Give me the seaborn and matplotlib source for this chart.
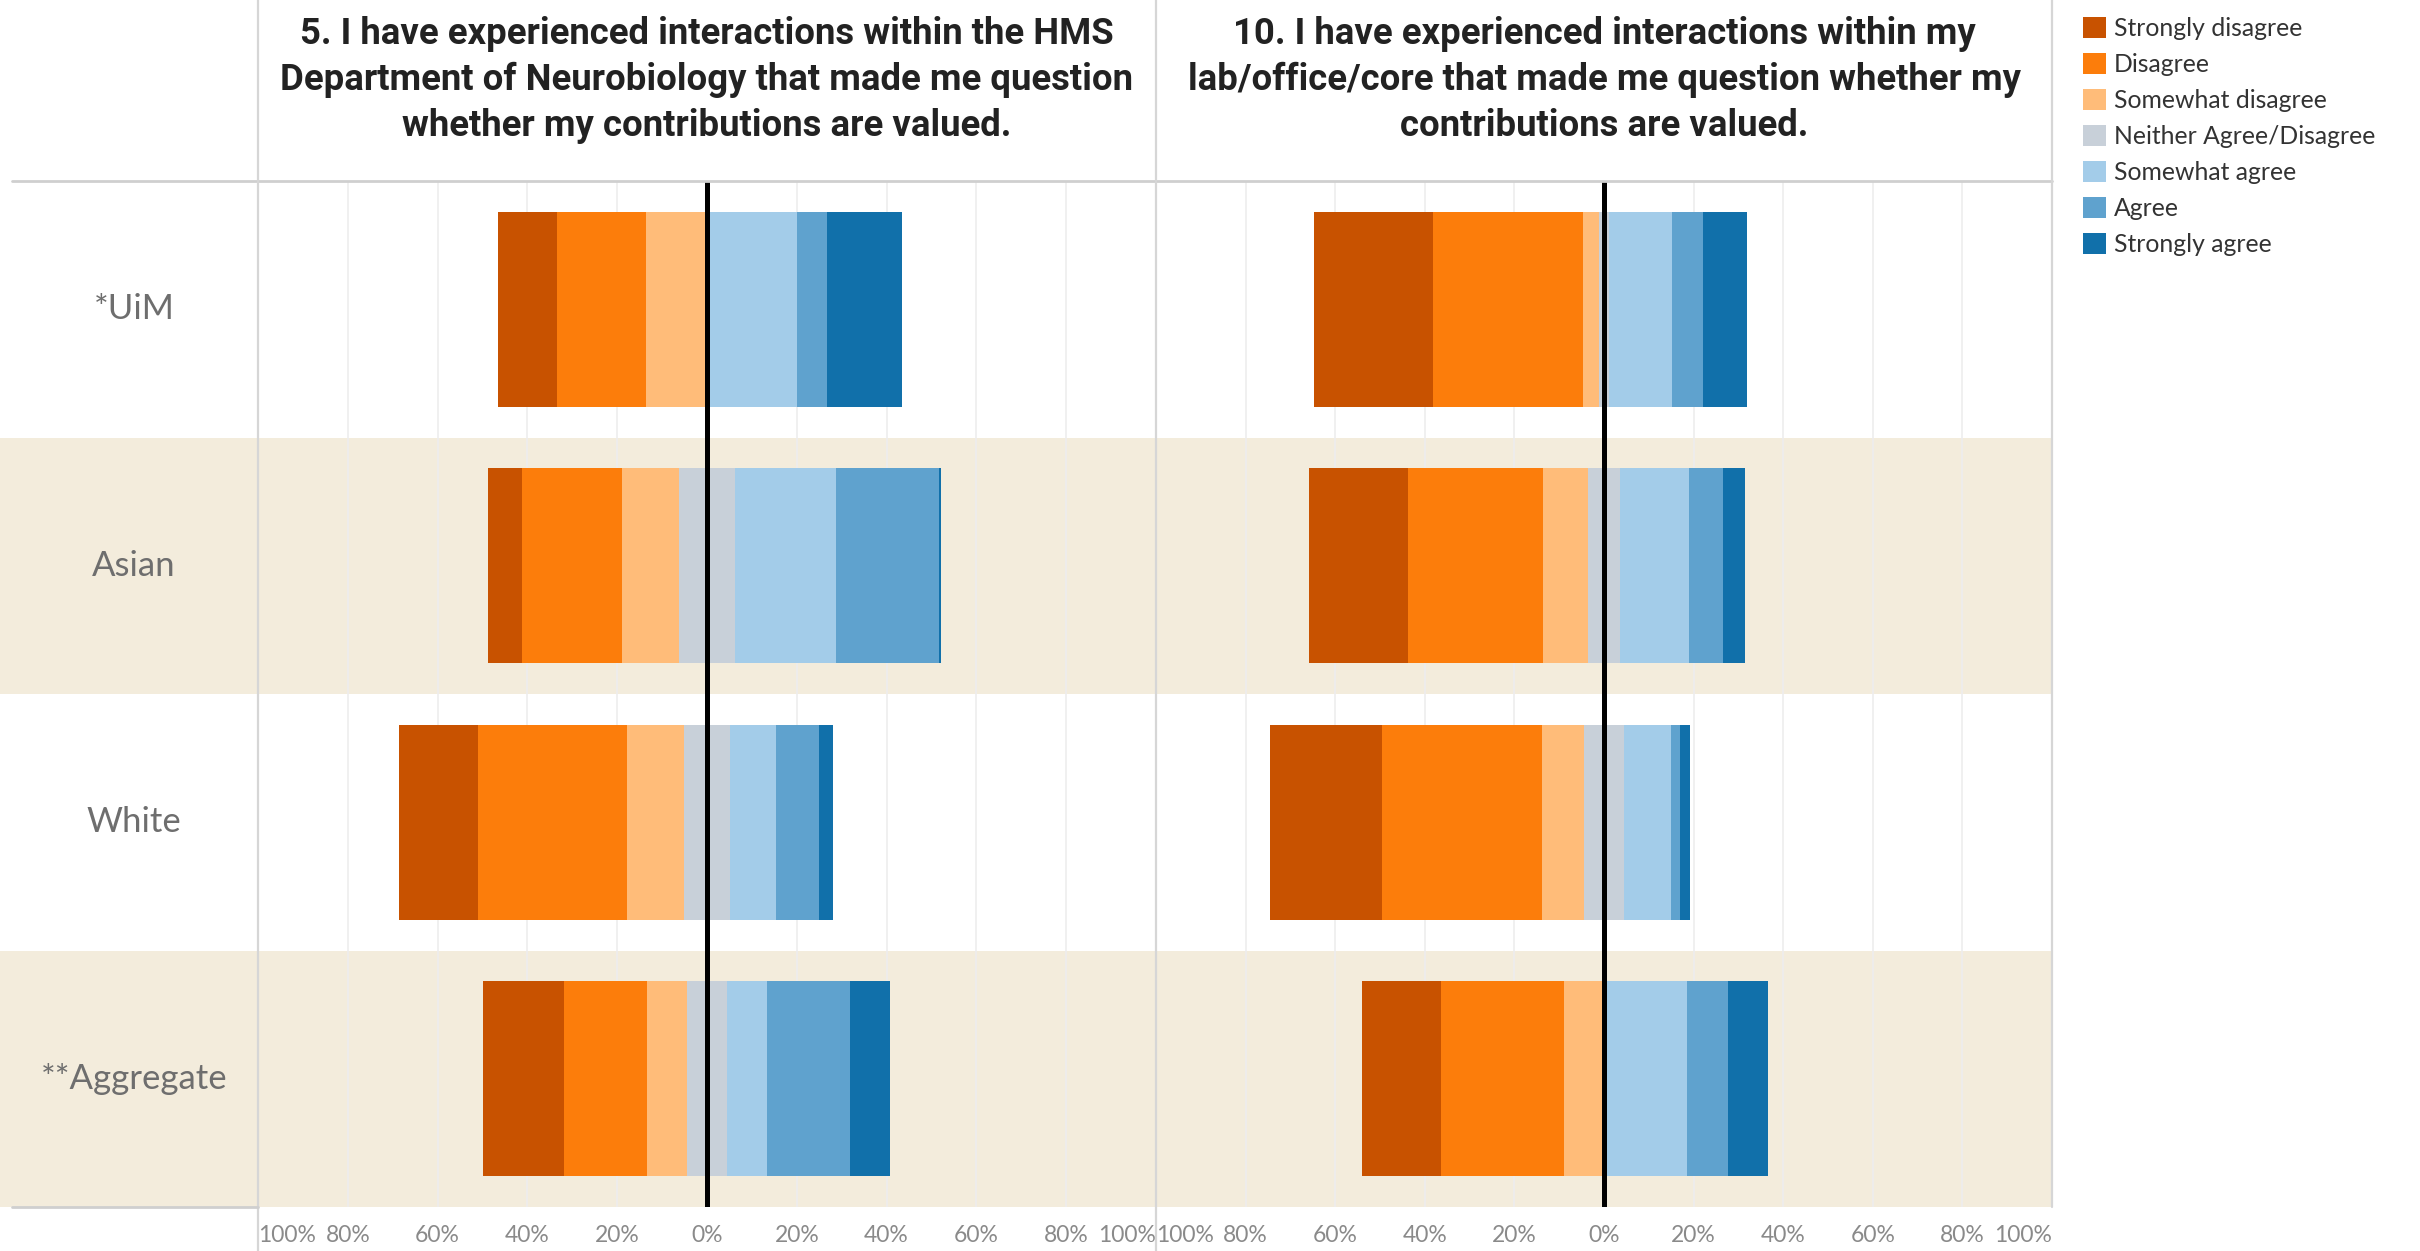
import numpy as np
import pandas as pd
import matplotlib
matplotlib.use("Agg")
import matplotlib.pyplot as plt
import seaborn as sns
from matplotlib.lines import Line2D
from matplotlib.patches import Patch

# ---------------- data ----------------
groups = ["*UiM", "Asian", "White", "**Aggregate"]
levels = ["Strongly disagree", "Disagree", "Somewhat disagree",
          "Neither Agree/Disagree", "Somewhat agree", "Agree", "Strongly agree"]
level_colors = ["#c85200", "#fc7d0b", "#ffbc79", "#c8d0d9",
                "#a3cce9", "#5fa2ce", "#1170aa"]

title_q5 = ["5. I have experienced interactions within the HMS",
            "Department of Neurobiology that made me question",
            "whether my contributions are valued."]
title_q10 = ["10. I have experienced interactions within my",
             "lab/office/core that made me question whether my",
             "contributions are valued."]

# Question 5 (percent of respondents)
q5_strongly_disagree = [13.2, 7.6, 17.5, 18.1]
q5_disagree = [19.8, 22.3, 33.3, 18.3]
q5_somewhat_disagree = [13.5, 12.6, 12.6, 9.1]
q5_neither = [0.0, 12.5, 10.3, 8.7]
q5_somewhat_agree = [20.0, 22.5, 10.3, 9.1]
q5_agree = [6.7, 23.0, 9.4, 18.3]
q5_strongly_agree = [16.7, 0.3, 3.3, 9.0]

# Question 10 (percent of respondents)
q10_strongly_disagree = [26.7, 22.3, 25.0, 17.7]
q10_disagree = [33.5, 30.1, 35.7, 27.4]
q10_somewhat_disagree = [3.4, 10.0, 9.4, 9.0]
q10_neither = [2.4, 7.1, 9.1, 0.0]
q10_somewhat_agree = [14.0, 15.4, 10.3, 18.5]
q10_agree = [6.9, 7.6, 2.2, 9.2]
q10_strongly_agree = [9.9, 4.9, 2.2, 9.0]

tick_values = [-100, -80, -60, -40, -20, 0, 20, 40, 60, 80, 100]
tick_labels = ["100%", "80%", "60%", "40%", "20%", "0%", "20%", "40%", "60%", "80%", "100%"]

# ---------------- style ----------------
sns.set_style("white")
plt.rcParams["font.family"] = ["Lato", "DejaVu Sans"]

W, H = 2420, 1251
fig = plt.figure(figsize=(W / 100, H / 100), dpi=100)
fig.patch.set_facecolor("white")

band_color = "#f3ecdc"
line_color = "#d6d6d6"
grid_color = "#ededed"

def fx(px):
    return px / W

def fy(py):
    return 1 - py / H

top_px, bot_px = 181, 1207
left_px, mid_px, right_px = 258, 1156, 2052
ax_b = fy(bot_px)
ax_h = (bot_px - top_px) / H


def draw_panel(ax, sd, d, swd, neu, swa, a, sa):
    half = np.array(neu, dtype=float) / 2
    neg_layers = [(half.copy(), level_colors[3])]
    cum = half.copy()
    for seg, col in zip([swd, d, sd], [level_colors[2], level_colors[1], level_colors[0]]):
        cum = cum + np.array(seg, dtype=float)
        neg_layers.append((cum.copy(), col))
    pos_layers = [(half.copy(), level_colors[3])]
    cum = half.copy()
    for seg, col in zip([swa, a, sa], [level_colors[4], level_colors[5], level_colors[6]]):
        cum = cum + np.array(seg, dtype=float)
        pos_layers.append((cum.copy(), col))

    for i in [1, 3]:
        ax.axhspan(i - 0.5, i + 0.5, color=band_color, lw=0, zorder=0)
    for t in tick_values:
        if t != 0:
            ax.axvline(t, color=grid_color, lw=1.2, zorder=0.5)

    for sign, layers in [(-1, neg_layers), (1, pos_layers)]:
        for w, col in reversed(layers):
            df = pd.DataFrame({"group": groups, "value": sign * w})
            sns.barplot(data=df, x="value", y="group", orient="h", order=groups,
                        color=col, saturation=1, width=0.76, linewidth=0,
                        edgecolor="none", errorbar=None, ax=ax, zorder=2)

    ax.axvline(0, color="black", lw=3.6, zorder=5)
    ax.set_xlim(-100, 100)
    ax.set_ylim(3.5, -0.5)
    ax.set_xlabel("")
    ax.set_ylabel("")
    ax.set_yticks([])
    ax.set_xticks(tick_values)
    ax.set_xticklabels(tick_labels)
    ax.tick_params(axis="x", length=0, pad=13, labelsize=16.5, labelcolor="#8a8a8a")
    labs = ax.get_xticklabels()
    labs[0].set_ha("left")
    labs[-1].set_ha("right")
    for s in ax.spines.values():
        s.set_visible(False)
    ax.set_facecolor("white")


ax1 = fig.add_axes([fx(left_px), ax_b, fx(mid_px - left_px), ax_h])
ax2 = fig.add_axes([fx(mid_px), ax_b, fx(right_px - mid_px), ax_h])

draw_panel(ax1, q5_strongly_disagree, q5_disagree, q5_somewhat_disagree, q5_neither,
           q5_somewhat_agree, q5_agree, q5_strongly_agree)
draw_panel(ax2, q10_strongly_disagree, q10_disagree, q10_somewhat_disagree, q10_neither,
           q10_somewhat_agree, q10_agree, q10_strongly_agree)

# row label column
axl = fig.add_axes([0, ax_b, fx(left_px), ax_h])
axl.set_xlim(0, 1)
axl.set_ylim(3.5, -0.5)
for i in [1, 3]:
    axl.axhspan(i - 0.5, i + 0.5, color=band_color, lw=0, zorder=0)
for i, g in enumerate(groups):
    axl.text(0.52, i, g, ha="center", va="center", fontsize=25, color="#6e6e6e")
axl.axis("off")

# header titles: fit the font size so the widest line matches the reference width
title_family = ["Roboto", "Open Sans", "DejaVu Sans"]
title_kw = dict(ha="center", va="center", fontweight="bold", color="#222222",
                family=title_family)
renderer = fig.canvas.get_renderer()
probe = fig.text(0.5, 0.5, title_q5[1], fontsize=27, **title_kw)
wpx = probe.get_window_extent(renderer=renderer).width
probe.remove()
title_size = 27 * 852.0 / wpx
title_size = min(title_size, 29)
line_y = [34, 80, 126]
for lines, x0, x1 in [(title_q5, left_px, mid_px), (title_q10, mid_px, right_px)]:
    for ln, yy in zip(lines, line_y):
        fig.text(fx((x0 + x1) / 2), fy(yy), ln, fontsize=title_size, **title_kw)

# frame lines
def fline(x0, y0, x1, y1, color=line_color, lw=1.6):
    fig.add_artist(Line2D([fx(x0), fx(x1)], [fy(y0), fy(y1)], color=color, lw=lw, zorder=10))

fline(12, top_px, right_px, top_px, color="#cfcfcf", lw=2)
fline(left_px, 0, left_px, H)
fline(mid_px, 0, mid_px, H)
fline(right_px, 0, right_px, bot_px)
fline(12, bot_px, left_px, bot_px, color="#cfcfcf", lw=2)

# legend
handles = [Patch(facecolor=c, edgecolor="none", label=l) for c, l in zip(level_colors, levels)]
fig.legend(handles=handles, loc="upper left", bbox_to_anchor=(fx(2083), fy(17)),
           frameon=False, fontsize=17.8, handlelength=0.95, handleheight=0.95,
           handletextpad=0.3, labelspacing=0.52, borderpad=0, borderaxespad=0,
           labelcolor="#333333")

fig.savefig("out.png", dpi=100, facecolor="white")
